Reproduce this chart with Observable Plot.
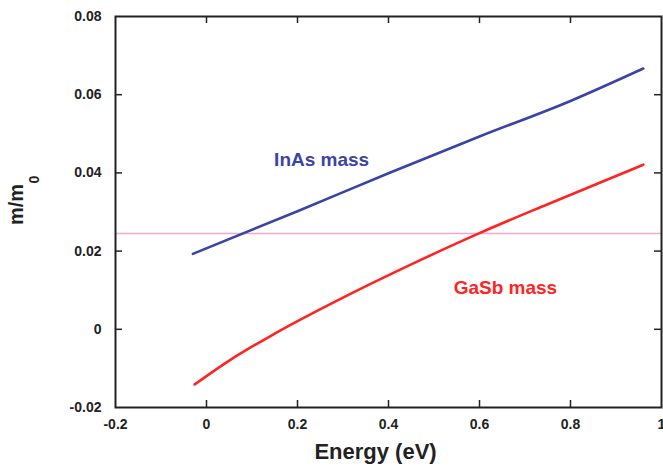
<!DOCTYPE html>
<html>
<head>
<meta charset="utf-8">
<script src="https://cdn.jsdelivr.net/npm/d3@7"></script>
<script src="https://cdn.jsdelivr.net/npm/@observablehq/plot@0.6"></script>
<style>
  html, body { margin: 0; padding: 0; background: white; }
</style>
</head>
<body>
<div id="chart"></div>
<script>
// Data
const inasEnergy = [-0.03, 0.2, 0.4, 0.6, 0.8, 0.96];
const inasMass   = [0.0193, 0.0302, 0.0399, 0.0493, 0.0584, 0.0667];

const gasbEnergy = [-0.026, 0.05, 0.15, 0.3, 0.45, 0.6, 0.75, 0.96];
const gasbMass   = [-0.0141, -0.0080, -0.0011, 0.0081, 0.0166, 0.0246, 0.0320, 0.0421];

const referenceMass = [0.0245];

const xTicks = [-0.2, 0, 0.2, 0.4, 0.6, 0.8, 1];
const yTicks = [-0.02, 0, 0.02, 0.04, 0.06, 0.08];
const xInnerTicks = [0, 0.2, 0.4, 0.6, 0.8];
const yInnerTicks = [0, 0.02, 0.04, 0.06];

const seriesLabels = [
  {name: "InAs mass", x: 0.253, y: 0.0432, color: "#3a44a4"},
  {name: "GaSb mass", x: 0.657, y: 0.0107, color: "#ff2424"}
];

const inas = inasEnergy.map((e, i) => ({energy: e, mass: inasMass[i]}));
const gasb = gasbEnergy.map((e, i) => ({energy: e, mass: gasbMass[i]}));

const xMin = -0.2, xMax = 1, yMin = -0.02, yMax = 0.08;
const tickX = 0.0154, tickY = 0.0018;

const chart = Plot.plot({
  width: 663,
  height: 472,
  marginLeft: 115,
  marginRight: 2,
  marginTop: 16,
  marginBottom: 65,
  style: {fontFamily: "'Liberation Sans', Arial, sans-serif", background: "white", color: "#222"},
  x: {domain: [xMin, xMax]},
  y: {domain: [yMin, yMax]},
  marks: [
    Plot.ruleY(referenceMass, {stroke: "#f2a8d4", strokeWidth: 1.5}),
    Plot.line(inas, {x: "energy", y: "mass", stroke: "#3a44a4", strokeWidth: 2.6, curve: "monotone-x"}),
    Plot.line(gasb, {x: "energy", y: "mass", stroke: "#ff2424", strokeWidth: 2.6, curve: "monotone-x"}),
    Plot.frame({stroke: "#222", strokeWidth: 2}),
    // inward ticks
    Plot.ruleX(xInnerTicks, {y1: yMin, y2: yMin + tickY, stroke: "#222", strokeWidth: 1.5}),
    Plot.ruleX(xInnerTicks, {y1: yMax, y2: yMax - tickY, stroke: "#222", strokeWidth: 1.5}),
    Plot.ruleY(yInnerTicks, {x1: xMin, x2: xMin + tickX, stroke: "#222", strokeWidth: 1.5}),
    Plot.ruleY(yInnerTicks, {x1: xMax, x2: xMax - tickX, stroke: "#222", strokeWidth: 1.5}),
    Plot.axisX({ticks: xTicks, tickFormat: d => String(d), tickSize: 0, tickPadding: 12,
      fontSize: 14, fontWeight: "bold", label: null}),
    Plot.axisY({ticks: yTicks, tickFormat: d => String(d), tickSize: 0, tickPadding: 14,
      fontSize: 14, fontWeight: "bold", label: null}),
    Plot.text(["Energy (eV)"], {frameAnchor: "bottom", dx: -13, dy: 51, fontSize: 22, fontWeight: "bold", fill: "#222"}),
    Plot.text(["m/m"], {frameAnchor: "left", textAnchor: "middle", dx: -99, dy: -7.5, rotate: -90, fontSize: 20, fontWeight: "bold", fill: "#222"}),
    Plot.text(["0"], {frameAnchor: "left", textAnchor: "middle", dx: -81, dy: -32.5, rotate: -90, fontSize: 14, fontWeight: "bold", fill: "#222"}),
    Plot.text(seriesLabels, {x: "x", y: "y", text: "name", fill: "color", fontSize: 19, fontWeight: "bold"})
  ]
});

document.getElementById("chart").appendChild(chart);
</script>
</body>
</html>
